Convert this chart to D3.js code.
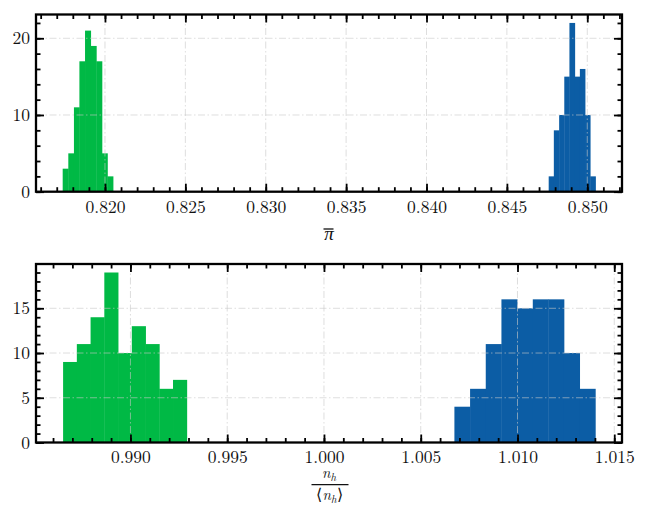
<!DOCTYPE html>
<html>
<head>
<meta charset="utf-8">
<script src="https://cdn.jsdelivr.net/npm/d3@7"></script>
<style>
  body { margin: 0; background: #fff; }
</style>
</head>
<body>
<div id="chart"></div>
<script>
// histogram bin edges + counts
const greenTopEdges = [0.81737, 0.81772, 0.81807, 0.81841, 0.81876, 0.81911, 0.81946, 0.81981, 0.82015, 0.82050];
const greenTopCounts = [3, 5, 11, 17, 21, 19, 17, 5, 2];
const blueTopEdges = [0.84760, 0.84792, 0.84825, 0.84857, 0.84889, 0.84922, 0.84954, 0.84986, 0.85018, 0.85051];
const blueTopCounts = [2, 8, 10, 15, 22, 15, 16, 10, 2];

const greenBotEdges = [0.98652, 0.98723, 0.98794, 0.98865, 0.98936, 0.99007, 0.99078, 0.99149, 0.99220, 0.99291];
const greenBotCounts = [9, 11, 14, 19, 10, 13, 11, 6, 7];
const blueBotEdges = [1.00674, 1.00755, 1.00836, 1.00917, 1.00998, 1.01079, 1.01159, 1.01240, 1.01321, 1.01402];
const blueBotCounts = [4, 6, 11, 16, 15, 16, 16, 10, 6];

// ticks
const topXTicks = [0.820, 0.825, 0.830, 0.835, 0.840, 0.845, 0.850];
const topYTicks = [0, 10, 20];
const botXTicks = [0.990, 0.995, 1.000, 1.005, 1.010, 1.015];
const botYTicks = [0, 5, 10, 15];

const GREEN = "#00B945";
const BLUE = "#0C5DA5";
const SERIF = '"Latin Modern Roman"';

const svg = d3.select("#chart")
  .append("svg")
  .attr("width", 647)
  .attr("height", 506);

function panel(opts) {
  const { left, right, top, bottom } = opts.box;
  const w = right - left, h = bottom - top;
  const g = svg.append("g").attr("transform", `translate(${left},${top})`);

  const x = d3.scaleLinear().domain(opts.xDomain).range([0, w]);
  const y = d3.scaleLinear().domain(opts.yDomain).range([h, 0]);

  // bars
  opts.series.forEach(s => {
    const bins = s.counts.map((c, i) => ({ x0: s.edges[i], x1: s.edges[i + 1], c }));
    g.selectAll(null)
      .data(bins)
      .enter()
      .append("rect")
      .attr("x", d => x(d.x0))
      .attr("y", d => y(d.c))
      .attr("width", d => x(d.x1) - x(d.x0) + 0.4)
      .attr("height", d => y(0) - y(d.c))
      .attr("fill", s.color);
  });

  // grid (drawn over the bars, like the original)
  const grid = g.append("g")
    .attr("stroke", "#c8c8c8")
    .attr("stroke-opacity", 0.6)
    .attr("stroke-width", 1)
    .attr("stroke-dasharray", "7,2.5,1.5,2.5");
  grid.selectAll(".gx").data(opts.xTicks).enter().append("line")
    .attr("x1", d => x(d)).attr("x2", d => x(d)).attr("y1", 0).attr("y2", h);
  grid.selectAll(".gy").data(opts.yTicks).enter().append("line")
    .attr("y1", d => y(d)).attr("y2", d => y(d)).attr("x1", 0).attr("x2", w);

  const step = (a, b, s) => d3.range(Math.ceil(a / s - 1e-9), Math.floor(b / s + 1e-9) + 1).map(k => +(k * s).toFixed(6));
  const xMinor = step(opts.xDomain[0], opts.xDomain[1], opts.xMinor);
  const yMinor = step(opts.yDomain[0], opts.yDomain[1], opts.yMinor);

  const MAJ = 8, MIN = 4.5;
  const tickStyle = sel => {
    sel.select(".domain").remove();
    sel.selectAll(".tick line").attr("stroke", "#000").attr("stroke-width", 1.8);
    sel.selectAll(".tick text")
      .attr("font-size", 17.5)
      .attr("fill", "#111")
      .style("font-family", SERIF);
  };

  // bottom
  g.append("g").attr("transform", `translate(0,${h})`)
    .call(d3.axisBottom(x).tickValues(opts.xTicks).tickSize(-MAJ).tickPadding(8.5).tickFormat(d3.format(".3f")))
    .call(tickStyle);
  g.append("g").attr("transform", `translate(0,${h})`)
    .call(d3.axisBottom(x).tickValues(xMinor).tickSize(-MIN).tickFormat(""))
    .call(tickStyle);
  // top
  g.append("g")
    .call(d3.axisTop(x).tickValues(opts.xTicks).tickSize(-MAJ).tickFormat(""))
    .call(tickStyle);
  g.append("g")
    .call(d3.axisTop(x).tickValues(xMinor).tickSize(-MIN).tickFormat(""))
    .call(tickStyle);
  // left
  g.append("g")
    .call(d3.axisLeft(y).tickValues(opts.yTicks).tickSize(-MAJ).tickPadding(6).tickFormat(d3.format("d")))
    .call(tickStyle);
  g.append("g")
    .call(d3.axisLeft(y).tickValues(yMinor).tickSize(-MIN).tickFormat(""))
    .call(tickStyle);
  // right
  g.append("g").attr("transform", `translate(${w},0)`)
    .call(d3.axisRight(y).tickValues(opts.yTicks).tickSize(-MAJ).tickFormat(""))
    .call(tickStyle);
  g.append("g").attr("transform", `translate(${w},0)`)
    .call(d3.axisRight(y).tickValues(yMinor).tickSize(-MIN).tickFormat(""))
    .call(tickStyle);

  // frame
  g.append("rect")
    .attr("width", w).attr("height", h)
    .attr("fill", "none").attr("stroke", "#000").attr("stroke-width", 2.3);

  return g;
}

panel({
  box: { left: 36, right: 622, top: 14.5, bottom: 191.7 },
  xDomain: [0.81571, 0.85216],
  yDomain: [0, 23.1],
  xTicks: topXTicks, yTicks: topYTicks,
  xMinor: 0.001, yMinor: 2,
  series: [
    { edges: greenTopEdges, counts: greenTopCounts, color: GREEN },
    { edges: blueTopEdges, counts: blueTopCounts, color: BLUE }
  ]
});

panel({
  box: { left: 36, right: 622, top: 264, bottom: 442.5 },
  xDomain: [0.98512, 1.01540],
  yDomain: [0, 19.95],
  xTicks: botXTicks, yTicks: botYTicks,
  xMinor: 0.001, yMinor: 1,
  series: [
    { edges: greenBotEdges, counts: greenBotCounts, color: GREEN },
    { edges: blueBotEdges, counts: blueBotCounts, color: BLUE }
  ]
});

// x label, top: pi with a bar
svg.append("text")
  .attr("x", 329).attr("y", 240)
  .attr("text-anchor", "middle")
  .attr("font-size", 19)
  .attr("font-style", "italic")
  .attr("fill", "#111")
  .style("font-family", SERIF)
  .text("π");
svg.append("line")
  .attr("x1", 323.5).attr("x2", 333.5)
  .attr("y1", 229).attr("y2", 229)
  .attr("stroke", "#111").attr("stroke-width", 1.3);

// x label, bottom: n_h / <n_h>
const num = svg.append("text")
  .attr("x", 329).attr("y", 478)
  .attr("text-anchor", "middle")
  .attr("font-size", 14)
  .attr("fill", "#111")
  .style("font-family", SERIF);
num.append("tspan").attr("font-style", "italic").attr("font-size", 15).text("n");
num.append("tspan").attr("font-style", "italic").attr("font-size", 11).attr("dy", 3).text("h");

svg.append("line")
  .attr("x1", 311.5).attr("x2", 348.5)
  .attr("y1", 484.6).attr("y2", 484.6)
  .attr("stroke", "#111").attr("stroke-width", 1.3);

const den = svg.append("text")
  .attr("x", 329.5).attr("y", 500)
  .attr("text-anchor", "middle")
  .attr("font-size", 16)
  .attr("fill", "#111")
  .style("font-family", SERIF);
den.append("tspan").text("⟨");
den.append("tspan").attr("font-style", "italic").attr("font-size", 15).text("n");
den.append("tspan").attr("font-style", "italic").attr("font-size", 11).attr("dy", 3).text("h");
den.append("tspan").attr("dy", -3).text("⟩");
</script>
</body>
</html>
